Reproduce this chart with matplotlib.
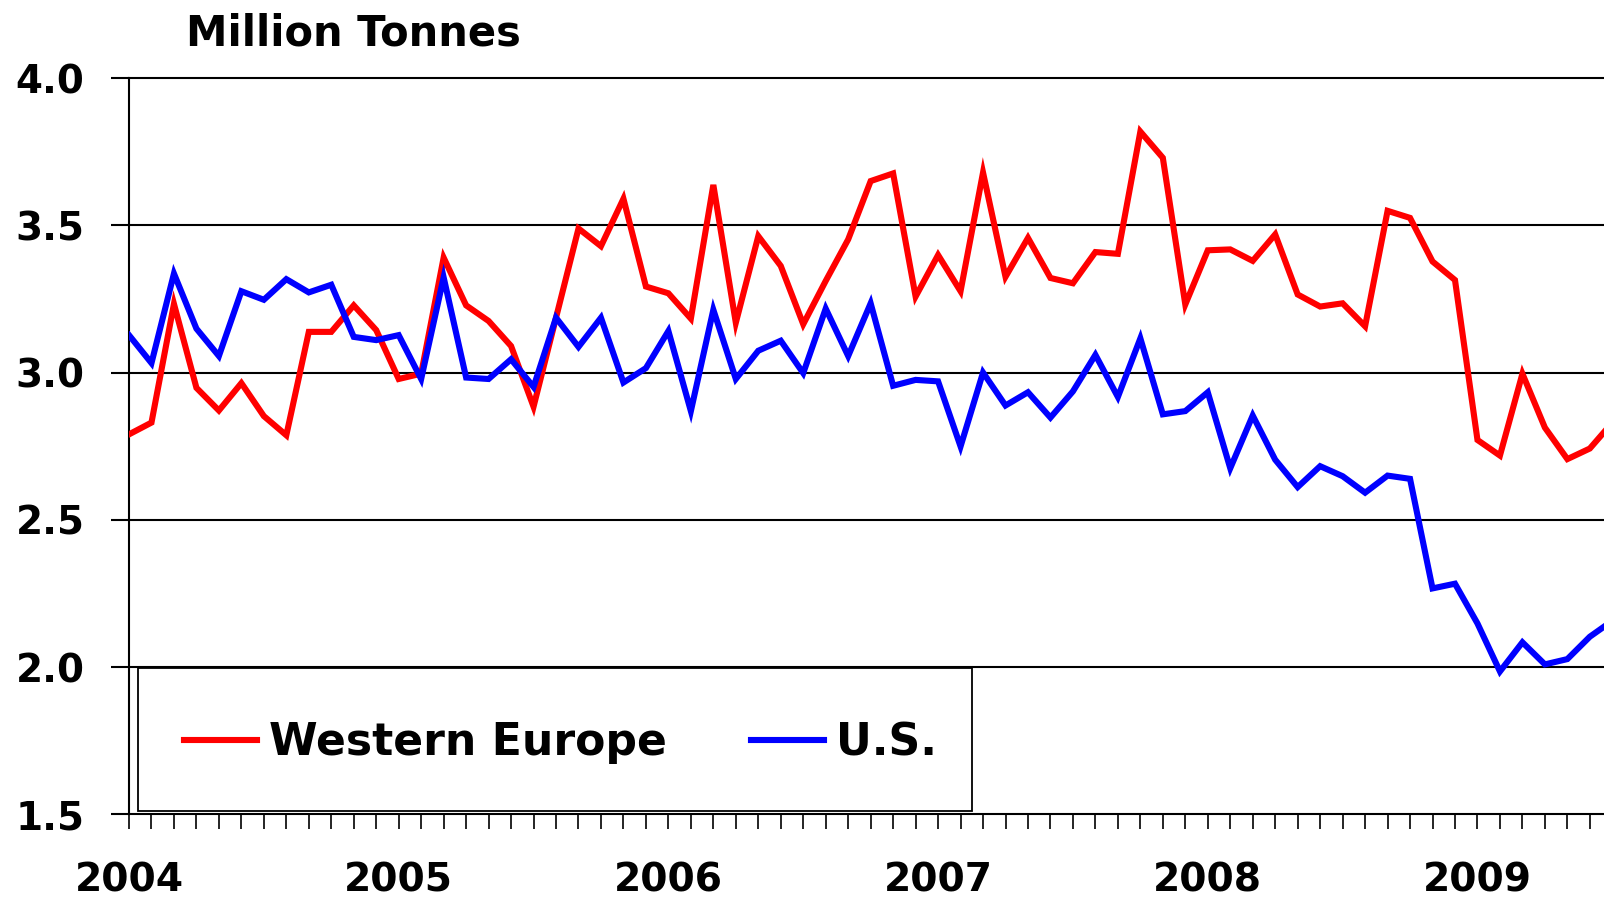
import matplotlib
matplotlib.use("Agg")
import matplotlib.pyplot as plt
from matplotlib.ticker import FixedLocator, NullFormatter
from matplotlib.patches import Rectangle

# ---- data (monthly, Jan 2004 onward) ----
months = list(range(67))
western_europe = [
    2.79, 2.83, 3.233, 2.948, 2.871, 2.964, 2.852, 2.787, 3.138, 3.138, 3.228, 3.144,
    2.978, 2.996, 3.39, 3.228, 3.175, 3.09, 2.884, 3.186, 3.489, 3.429, 3.59, 3.292,
    3.269, 3.183, 3.637, 3.169, 3.463, 3.362, 3.164, 3.311, 3.452, 3.65, 3.676, 3.258,
    3.399, 3.276, 3.679, 3.325, 3.457, 3.321, 3.303, 3.409, 3.403, 3.818, 3.729, 3.231,
    3.415, 3.418, 3.379, 3.469, 3.265, 3.224, 3.235, 3.157, 3.549, 3.525, 3.377, 3.314,
    2.771, 2.718, 2.996, 2.813, 2.706, 2.742, 2.83,
]
us = [
    3.127, 3.032, 3.336, 3.149, 3.056, 3.276, 3.247, 3.317, 3.272, 3.298, 3.121, 3.11,
    3.127, 2.978, 3.323, 2.983, 2.978, 3.045, 2.951, 3.186, 3.087, 3.186, 2.966, 3.015,
    3.141, 2.869, 3.213, 2.978, 3.074, 3.108, 2.998, 3.217, 3.056, 3.235, 2.955, 2.975,
    2.97, 2.749, 3.0, 2.888, 2.933, 2.847, 2.936, 3.06, 2.917, 3.116, 2.858, 2.869,
    2.933, 2.675, 2.854, 2.704, 2.611, 2.682, 2.648, 2.592, 2.65, 2.639, 2.267, 2.283,
    2.148, 1.985, 2.084, 2.009, 2.027, 2.103, 2.157,
]
series_names = ["Western Europe", "U.S."]
year_labels = ["2004", "2005", "2006", "2007", "2008", "2009"]
year_ticks = [0, 12, 24, 36, 48, 60]
y_ticks = [1.5, 2.0, 2.5, 3.0, 3.5, 4.0]
y_labels = ["1.5", "2.0", "2.5", "3.0", "3.5", "4.0"]
title_text = "Million Tonnes"

plt.rcParams["font.family"] = ["DejaVu Sans"]
plt.rcParams["font.weight"] = "bold"

W, H = 1604, 901
fig = plt.figure(figsize=(W / 100, H / 100), dpi=100)
ax = fig.add_axes([129 / W, 1 - 814.3 / H, 1 - 129 / W, (814.3 - 78) / H])

ax.plot(months, western_europe, color="#FF0000", lw=4.4, label=series_names[0],
        solid_joinstyle="miter", zorder=3)
ax.plot(months, us, color="#0000FF", lw=4.4, label=series_names[1],
        solid_joinstyle="miter", zorder=3)

ax.set_xlim(0, 65.63)
ax.set_ylim(1.5, 4.0)

# grid
for v in [2.0, 2.5, 3.0, 3.5]:
    ax.axhline(v, color="black", lw=1.5, zorder=1)

ax.spines["right"].set_visible(False)
for s in ["left", "bottom", "top"]:
    ax.spines[s].set_linewidth(1.5)
    ax.spines[s].set_color("black")

ax.set_yticks(y_ticks)
ax.set_yticklabels(y_labels, fontsize=28, fontweight="bold")
ax.tick_params(axis="y", direction="out", length=13, width=1.5, pad=19)

ax.xaxis.set_major_locator(FixedLocator(year_ticks))
ax.set_xticklabels(year_labels, fontsize=28.3, fontweight="bold")
ax.xaxis.set_minor_locator(FixedLocator(months[:66]))
ax.xaxis.set_minor_formatter(NullFormatter())
ax.tick_params(axis="x", which="both", direction="out", length=11, width=1.2)
ax.tick_params(axis="x", which="major", pad=23)

fig.text(186 / W, 1 - 45 / H, title_text, fontsize=30, fontweight="bold",
         ha="left", va="baseline")

# legend frame (drawn as a box) and legend content
frame = Rectangle((138 / W, 1 - 811 / H), (972 - 138) / W, (811 - 668) / H,
                  transform=fig.transFigure, facecolor="white", edgecolor="black",
                  lw=1.3, zorder=4, clip_on=False)
ax.add_patch(frame)

leg = ax.legend(loc="center left", bbox_to_anchor=(184 / W, 1 - 743 / H),
                bbox_transform=fig.transFigure, ncol=2,
                prop={"weight": "bold", "size": 31.8},
                frameon=False, borderpad=0, handlelength=1.65, handletextpad=0.28,
                columnspacing=1.9, borderaxespad=0)
for line in leg.get_lines():
    line.set_linewidth(4.4)
leg.set_zorder(5)

fig.savefig("out.png", dpi=100)
